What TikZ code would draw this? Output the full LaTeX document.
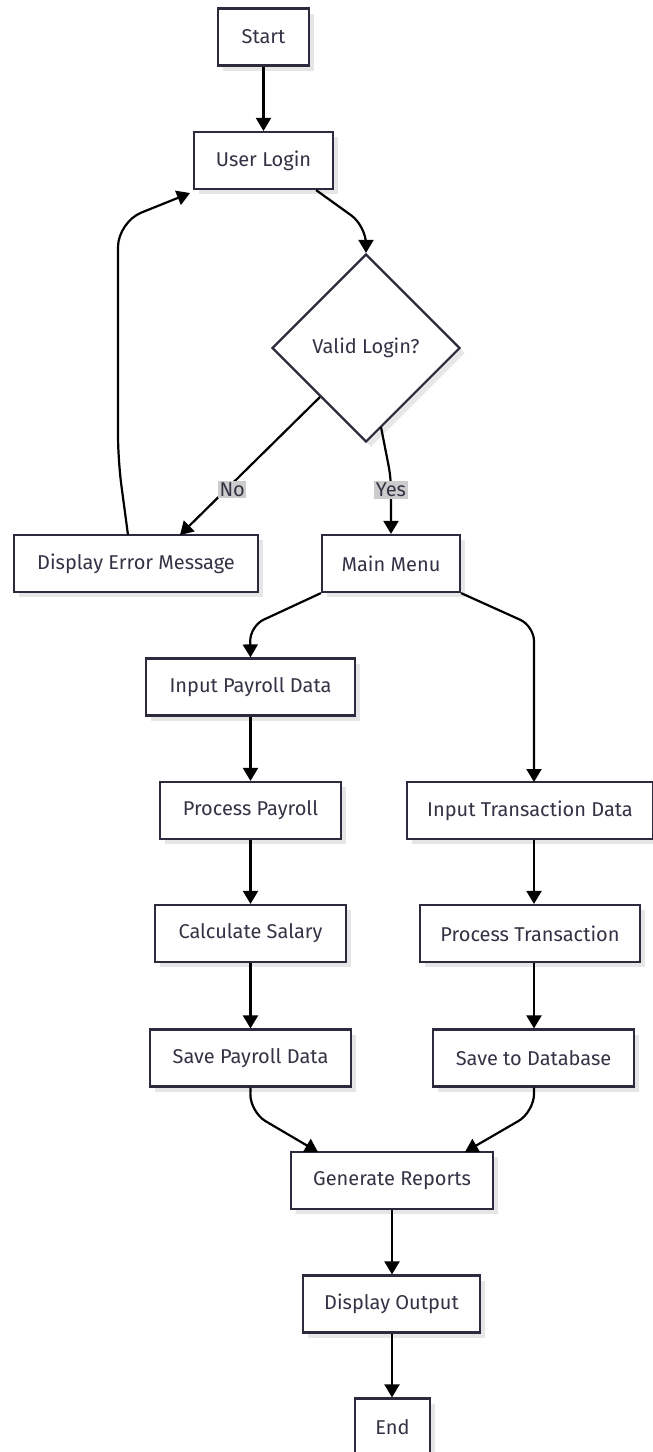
\documentclass[tikz,border=0pt]{standalone}
\usepackage{fontspec}
\setmainfont{Fira Sans}
\usetikzlibrary{shapes.geometric,arrows.meta,shadows}
\definecolor{boxc}{HTML}{2B2B3D}
\definecolor{txtc}{HTML}{333345}
\definecolor{shadc}{HTML}{E6E6E6}
\definecolor{lblc}{HTML}{CCCCCC}
\tikzset{
  stepbox/.style={draw=boxc, line width=2.2pt, fill=white, text=txtc,
    minimum height=57pt, inner sep=0pt,
    font=\fontsize{20}{24}\selectfont,
    general shadow={fill=shadc, shadow xshift=5pt, shadow yshift=-5pt}},
  decbox/.style={stepbox, diamond, aspect=1, minimum width=188pt, minimum height=188pt},
  arr/.style={line width=2.2pt, black, -{Triangle[length=13pt,width=15pt]}},
  lbl/.style={fill=lblc, text=txtc, inner sep=1.5pt, font=\fontsize{20}{24}\selectfont}
}
\begin{document}
\begin{tikzpicture}[x=1pt,y=-1pt]
\useasboundingbox (0,0) rectangle (653,1452);
\node[stepbox, minimum width=91pt] (start) at (263.5,37) {Start};
\node[stepbox, minimum width=139pt] (login) at (263.5,160.5) {User Login};
\node[decbox] (dec) at (366,348) {Valid Login?};
\node[stepbox, minimum width=244pt] (err) at (136,563.5) {Display Error Message};
\node[stepbox, minimum width=138pt] (menu) at (391,563.5) {Main Menu};
\node[stepbox, minimum width=209pt] (ipd) at (250.5,687) {Input Payroll Data};
\node[stepbox, minimum width=181pt] (pp) at (250.5,810.5) {Process Payroll};
\node[stepbox, minimum width=191pt] (cs) at (250.5,933.5) {Calculate Salary};
\node[stepbox, minimum width=201pt] (spd) at (250.5,1058) {Save Payroll Data};
\node[stepbox, minimum width=246pt] (itd) at (530,810.5) {Input Transaction Data};
\node[stepbox, minimum width=220pt] (pt) at (530,933.5) {Process Transaction};
\node[stepbox, minimum width=201pt] (sdb) at (533.5,1058) {Save to Database};
\node[stepbox, minimum width=202pt] (gen) at (392,1180.5) {Generate Reports};
\node[stepbox, minimum width=177pt] (dout) at (391.5,1304) {Display Output};
\node[stepbox, minimum width=75pt] (end) at (392.5,1427) {End};

\draw[arr] (start) -- (login);
\draw[arr, rounded corners=18pt] ([xshift=-18pt]login.south east) -- (366,226) -- (dec.north);
\draw[arr] (320,397) -- node[lbl, pos=0.67, xshift=6pt] {No} (180,535);
\draw[arr, rounded corners=12pt] (381,427) -- (391,478) -- (menu.north);
\node[lbl] (yes) at (391,490) {Yes};
\draw[arr, rounded corners=25pt] (128,535) -- (118,460) -- (118,222) -- (190,193);
\draw[arr, rounded corners=15pt] (menu.south west) -- (250,626) -- (ipd.north);
\draw[arr, rounded corners=15pt] (menu.south east) -- (534,626) -- (534,782);
\draw[arr] (ipd) -- (pp);
\draw[arr] (pp) -- (cs);
\draw[arr] (cs) -- (spd);
\draw[arr] (itd.south -| 534,0) -- (pt.north -| 534,0);
\draw[arr] (pt.south -| 534,0) -- (sdb.north -| 534,0);
\draw[arr, rounded corners=18pt] (spd.south) -- (250,1112) -- (318,1152);
\draw[arr, rounded corners=18pt] (sdb.south -| 534,0) -- (534,1112) -- (465,1152);
\draw[arr] (gen.south -| 392,0) -- (dout.north -| 392,0);
\draw[arr] (dout.south -| 392,0) -- (end.north -| 392,0);
\end{tikzpicture}
\end{document}
